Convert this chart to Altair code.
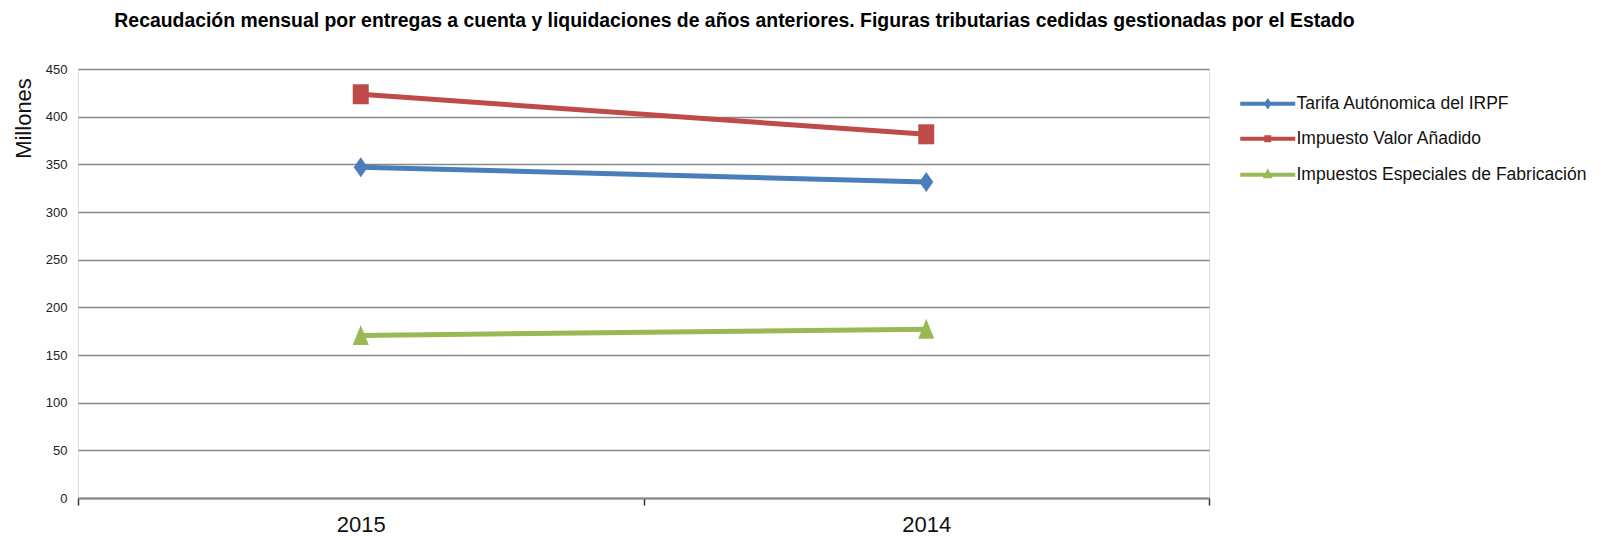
import altair as alt
import pandas as pd

anios = ["2015", "2014"]
series = ["Tarifa Autónomica del IRPF", "Impuesto Valor Añadido", "Impuestos Especiales de Fabricación"]
irpf = [347, 331.5]
iva = [423.5, 381.5]
iiee = [170.5, 177]
colores = ["#4A7EBB", "#BE4B48", "#98B954"]

titulo = ("Recaudación mensual por entregas a cuenta y liquidaciones de años anteriores. "
          "Figuras tributarias cedidas gestionadas por el Estado")

rows = []
for s, vals in zip(series, [irpf, iva, iiee]):
    for a, v in zip(anios, vals):
        rows.append({"anio": a, "serie": s, "valor": v})
df = pd.DataFrame(rows)

FONT = "Liberation Sans"

marcadores = [
    "M0,-1.25L0.875,0L0,1.25L-0.875,0Z",
    "M-1,-1.25H1V1.25H-1Z",
    "M0,-1.3L1,1.2H-1Z",
]
leyenda_simbolos = [
    "M-5.5,0H5.5M0,-0.45L0.3,0L0,0.45L-0.3,0Z",
    "M-5.5,0H5.5M-0.3,-0.3H0.3V0.3H-0.3Z",
    "M-5.5,0H5.5M0,-0.4L0.35,0.3H-0.35Z",
]

x_enc = alt.X(
    "anio:N",
    sort=anios,
    scale=alt.Scale(paddingInner=0, paddingOuter=0),
    axis=alt.Axis(
        title=None, labelAngle=0, labelFontSize=22, labelFont=FONT, labelColor="#111",
        tickBand="extent", tickSize=7, tickColor="#333", tickWidth=1.5,
        domainColor="#858585", domainWidth=2, labelPadding=9, grid=False,
    ),
)
y_enc = alt.Y(
    "valor:Q",
    scale=alt.Scale(domain=[0, 450], nice=False, zero=True),
    axis=alt.Axis(
        title="Millones", values=list(range(0, 451, 50)), ticks=False, domain=False,
        labelFontSize=13, labelFont=FONT, labelColor="#222", labelPadding=11,
        gridColor="#888888", gridWidth=1.4,
        titleFont=FONT, titleFontSize=22, titleFontWeight="normal", titleColor="#111",
        titleAngle=-90, titleX=-55, titleY=49, titleAlign="center", titleBaseline="middle",
    ),
)

color_sc = alt.Scale(domain=series, range=colores)

leg_kw = dict(
    title=None, orient="none", legendX=1181, legendY=26, direction="vertical",
    symbolSize=100, symbolStrokeWidth=4, symbolOpacity=1,
    labelFont=FONT, labelFontSize=17.5, labelColor="#111", labelOffset=20,
    labelLimit=400, rowPadding=15, padding=0,
)

base = alt.Chart(df)

lineas = base.mark_line(strokeWidth=5).encode(
    x=x_enc, y=y_enc,
    color=alt.Color("serie:N", scale=color_sc, legend=None),
    detail="serie:N",
)

puntos = base.mark_point(filled=True, size=256, opacity=1).encode(
    x=x_enc, y=y_enc,
    color=alt.Color("serie:N", scale=color_sc, legend=None),
    shape=alt.Shape("serie:N", scale=alt.Scale(domain=series, range=marcadores), legend=None),
)

leyenda = base.mark_point(filled=False, opacity=0, strokeWidth=4).encode(
    x=x_enc, y=y_enc,
    color=alt.Color("serie:N", scale=color_sc, legend=alt.Legend(**leg_kw)),
    shape=alt.Shape("serie:N", scale=alt.Scale(domain=series, range=leyenda_simbolos),
                    legend=alt.Legend(**leg_kw)),
)

chart = (
    alt.layer(lineas, puntos, leyenda)
    .resolve_scale(color="independent", shape="independent")
    .properties(
        width=1131, height=429,
        autosize=alt.AutoSizeParams(type="none"),
        padding={"left": 70, "top": 61, "right": 391, "bottom": 45},
        title=alt.TitleParams(
            titulo, font=FONT, fontSize=19.4, fontWeight="bold", color="#000",
            anchor="middle", dx=91, offset=32,
        ),
    )
    .configure_view(stroke=None)
    .configure(background="white")
)

chart.save("out.html", embed_options={"renderer": "svg", "actions": False})
